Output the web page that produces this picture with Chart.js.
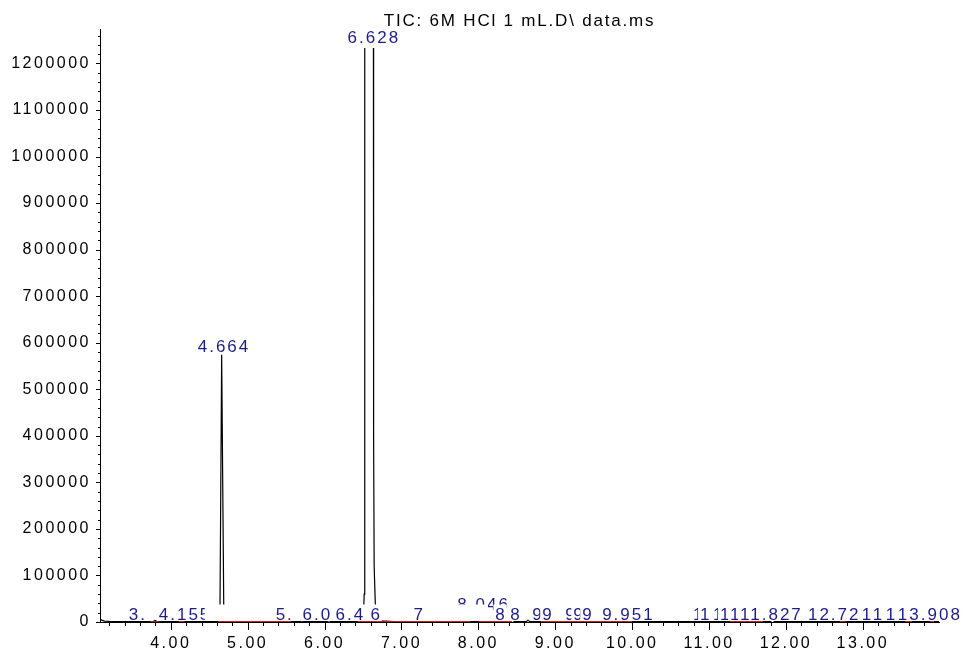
<!DOCTYPE html>
<html>
<head>
<meta charset="utf-8">
<title>TIC chromatogram</title>
<script src="https://cdn.jsdelivr.net/npm/chart.js@4.4.1/dist/chart.umd.min.js"></script>
<style>
  html, body { margin: 0; padding: 0; background: #fff; }
  #wrap { width: 969px; height: 652px; position: relative; }
</style>
</head>
<body>
<div id="wrap"><canvas id="tic-chart" width="969" height="652"></canvas></div>
<script>
// Total ion chromatogram: retention time (min) and abundance
const rtTimes = [3.08, 3.10, 3.14, 3.20, 3.30, 3.50, 3.77, 3.798, 3.83, 4.12, 4.155, 4.19, 4.40,
  4.636, 4.640, 4.662, 4.690, 4.694, 4.80, 5.20, 5.68, 5.703, 5.73, 6.03, 6.058, 6.08,
  6.30, 6.46, 6.487, 6.505, 6.515, 6.520, 6.525, 6.630, 6.638, 6.645, 6.660, 6.690, 6.750, 6.90,
  7.46, 7.49, 7.52, 7.90, 8.02, 8.046, 8.07, 8.30, 8.42, 8.445, 8.47, 8.62, 8.645, 8.67, 8.93,
  8.96, 8.99, 9.40, 9.92, 9.951, 9.98, 10.50, 11.00, 11.50, 11.80, 11.827, 11.85, 12.40, 12.69,
  12.72, 12.75, 13.30, 13.88, 13.908, 13.93, 13.99];
const ticValues = [7000, 4000, 2000, 1200, 900, 800, 800, 3500, 800, 800, 4000, 800, 700,
  800, 20000, 574000, 20000, 900, 700, 600, 600, 2500, 600, 600, 3000, 700,
  700, 800, 4000, 1500, 60000, 400000, 3000000, 3000000, 400000, 120000, 40000, 9000, 2500, 1000,
  700, 3000, 700, 800, 1500, 20000, 1500, 800, 800, 4000, 800, 800, 4000, 800, 700,
  3000, 700, 700, 800, 8000, 800, 700, 700, 700, 700, 6000, 700, 700, 700,
  5000, 700, 700, 700, 7000, 700, 700];

// integration baselines (red), start / end retention time
const baseStart = [3.74, 4.10, 4.62, 6.43, 8.00, 8.81, 11.27, 12.70, 13.55, 13.87];
const baseEnd   = [3.84, 4.17, 5.56, 7.90, 8.44, 10.00, 11.70, 12.77, 13.64, 13.92];
const baseLevel = 800;

// peak labels as they show on the plot (left edge time, text, abundance under the label)
// overlapping labels cover each other, so many only show a fragment
const labelTimes = [3.455, 3.844, 4.468, 5.364, 5.714, 6.143, 6.597, 7.156, 7.727, 7.338,
  8.221, 8.416, 8.701, 8.831, 9.130, 9.234, 9.351, 9.610, 10.792, 10.883, 11.052, 11.143,
  11.273, 11.403, 12.286, 12.987, 13.130, 13.299, 13.455, 4.351, 6.299];
const labelTexts = ["3.", "4.155", "           ", "5.", "6.0", "6.4", "6", "7", "8.046", "         ",
  "8", "8", "9", "9", "9", "9", "9", "9.951", "1", "1", "1", "1",
  "1", "11.827", "12.72", "1", "1", "1", "13.908", "4.664", "6.628"];
const labelLevels = [0, 0, 0, 0, 0, 0, 0, 0, 20400, 0,
  0, 0, 0, 0, 0, 0, 0, 0, 0, 0, 0, 0,
  0, 0, 0, 0, 0, 0, 0, 574600, 1238400];

const titleText = "TIC: 6M HCl 1 mL.D\\ data.ms";

const xMin = 3.08, xMax = 13.99;
const yMax = 1274000;
const yStep = 20000, yLabelStep = 100000;

const fontFamily = "'Liberation Sans', Arial, sans-serif";
Chart.defaults.font.family = fontFamily;
Chart.defaults.color = "#000";

const tracePoints = rtTimes.map((t, i) => ({ x: t, y: ticValues[i] }));

const basePoints = [];
baseStart.forEach((s, i) => {
  basePoints.push({ x: s, y: baseLevel });
  basePoints.push({ x: baseEnd[i], y: baseLevel });
  basePoints.push({ x: baseEnd[i], y: null });
});

function isWhole(v, step) {
  return Math.abs(v / step - Math.round(v / step)) < 1e-6;
}

// wide letter spacing for the axis numbers
const spacingPlugin = {
  id: "spacing",
  beforeLayout(chart) { chart.ctx.letterSpacing = "2.5px"; },
  beforeDraw(chart) { chart.ctx.letterSpacing = "2.5px"; }
};

const chromPlugin = {
  id: "chrom",
  afterDatasetsDraw(chart) {
    const ctx = chart.ctx;
    const xs = chart.scales.x, ys = chart.scales.y;
    ctx.save();
    ctx.font = "17px " + fontFamily;
    ctx.letterSpacing = "2px";
    ctx.textBaseline = "alphabetic";
    ctx.textAlign = "left";
    labelTexts.forEach((txt, i) => {
      const x = xs.getPixelForValue(labelTimes[i]);
      const y = ys.getPixelForValue(labelLevels[i]) - 2.5;
      const w = ctx.measureText(txt).width;
      ctx.fillStyle = "#fff";
      ctx.fillRect(x - 2, y - 15, w + 2, 16.5);
      ctx.fillStyle = "#1c1c8e";
      ctx.fillText(txt, x, y);
    });
    ctx.restore();
  },
  afterDraw(chart) {
    const ctx = chart.ctx;
    const area = chart.chartArea;
    const xs = chart.scales.x, ys = chart.scales.y;
    ctx.save();
    ctx.strokeStyle = "#000";
    ctx.lineWidth = 1;
    ctx.beginPath();
    xs.ticks.forEach((t) => {
      const px = Math.round(xs.getPixelForValue(t.value)) + 0.5;
      const len = isWhole(t.value, 1) ? 8 : 4;
      ctx.moveTo(px, area.bottom);
      ctx.lineTo(px, area.bottom + len);
    });
    ys.ticks.forEach((t) => {
      const py = Math.round(ys.getPixelForValue(t.value)) + 0.5;
      const len = isWhole(t.value, yLabelStep) ? 4 : 2;
      ctx.moveTo(area.left - len, py);
      ctx.lineTo(area.left, py);
    });
    ctx.stroke();

    // title
    ctx.font = "17px " + fontFamily;
    ctx.letterSpacing = "1.8px";
    ctx.fillStyle = "#000";
    ctx.textAlign = "center";
    ctx.textBaseline = "alphabetic";
    ctx.fillText(titleText, (area.left + area.right) / 2, 26);
    ctx.restore();
  }
};

new Chart(document.getElementById("tic-chart"), {
  type: "line",
  data: {
    datasets: [
      {
        label: "baseline",
        data: basePoints,
        borderColor: "#c81e1e",
        borderWidth: 1.5,
        pointRadius: 0,
        spanGaps: false
      },
      {
        label: "TIC",
        data: tracePoints,
        borderColor: "#000",
        borderWidth: 1.2,
        pointRadius: 0,
        tension: 0,
        clip: { left: 0, top: -19, right: 0, bottom: 3 }
      }
    ]
  },
  options: {
    responsive: false,
    animation: false,
    events: [],
    layout: { padding: { top: 29, right: 30, left: 0, bottom: 0 } },
    plugins: {
      legend: { display: false },
      tooltip: { enabled: false },
      title: { display: false }
    },
    scales: {
      x: {
        type: "linear",
        min: xMin,
        max: xMax,
        grid: { display: false },
        border: { display: true, color: "#000", width: 1 },
        ticks: {
          stepSize: 0.2,
          includeBounds: false,
          autoSkip: false,
          maxRotation: 0,
          padding: 4,
          font: { size: 16 },
          color: "#000",
          callback: (v) => (isWhole(v, 1) ? v.toFixed(2) : "")
        },
        afterFit: (s) => { s.height = 30; }
      },
      y: {
        type: "linear",
        min: 0,
        max: yMax,
        grid: { display: false },
        border: { display: true, color: "#000", width: 1 },
        afterBuildTicks: (s) => {
          const ticks = [];
          for (let v = 0; v <= yMax; v += yStep) ticks.push({ value: v });
          s.ticks = ticks;
        },
        ticks: {
          autoSkip: false,
          padding: 1,
          font: { size: 16 },
          color: "#000",
          callback: (v) => (isWhole(v, yLabelStep) ? String(Math.round(v)) : "")
        },
        afterFit: (s) => { s.width = 100; }
      }
    }
  },
  plugins: [spacingPlugin, chromPlugin]
});
</script>
</body>
</html>
